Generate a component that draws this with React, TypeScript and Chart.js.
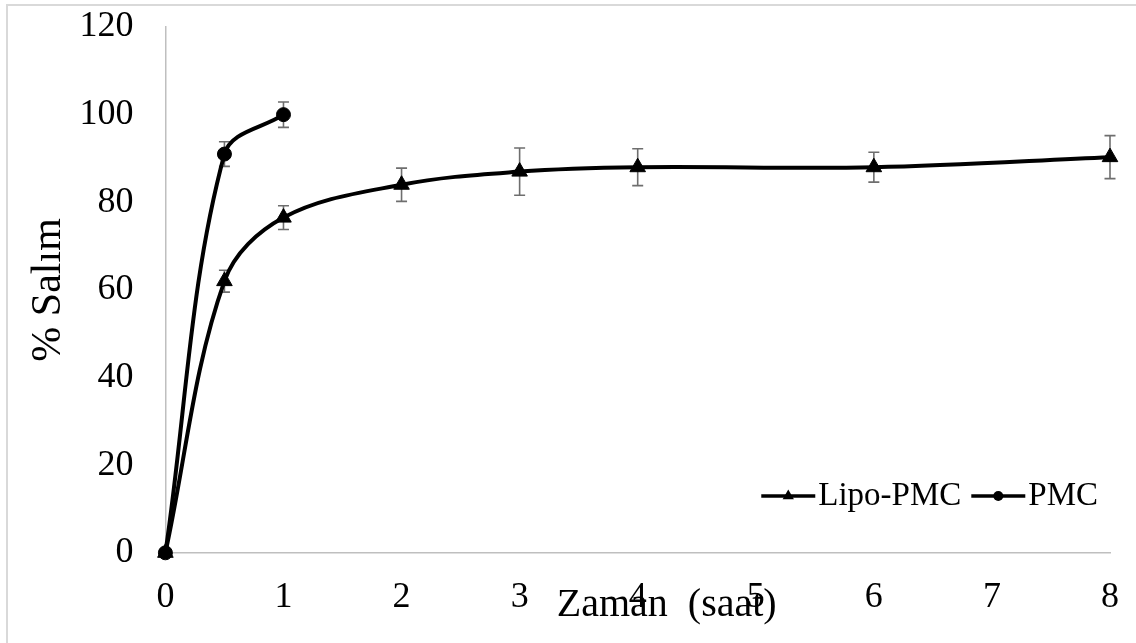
import React, { useEffect, useRef } from "react";
import { Chart, registerables } from "chart.js";

Chart.register(...registerables);

// ---- data ----
const timeLipo = [0, 0.5, 1, 2, 3, 4, 6, 8];
const lipoValues = [0, 62, 76.5, 84, 87, 88, 88, 90.3];
const lipoErrors = [0, 2.5, 2.7, 3.8, 5.4, 4.2, 3.4, 4.9];
const timePMC = [0, 0.5, 1];
const pmcValues = [0, 91, 100];
const pmcErrors = [0, 2.8, 2.9];
const seriesNames = ["Lipo-PMC", "PMC"];
const xTitle = "Zaman  (saat)";
const yTitle = "% Salım";
const xRange = [0, 8, 1];
const yRange = [0, 120, 20];

const SERIF = "'Liberation Serif', 'Times New Roman', serif";

const errorBarPlugin = {
  id: "errorBars",
  beforeDatasetsDraw(chart: any) {
    const { ctx } = chart;
    const xs = chart.scales.x;
    const ys = chart.scales.y;
    ctx.save();
    ctx.strokeStyle = "#6e6e6e";
    ctx.lineWidth = 1.6;
    chart.data.datasets.forEach((ds: any) => {
      (ds.data as any[]).forEach((p: any, i: number) => {
        const e = ds.errors[i];
        if (!e) return;
        const x = xs.getPixelForValue(p.x);
        const yt = ys.getPixelForValue(p.y + e);
        const yb = ys.getPixelForValue(p.y - e);
        const cap = 5.5;
        ctx.beginPath();
        ctx.moveTo(x, yt);
        ctx.lineTo(x, yb);
        ctx.moveTo(x - cap, yt);
        ctx.lineTo(x + cap, yt);
        ctx.moveTo(x - cap, yb);
        ctx.lineTo(x + cap, yb);
        ctx.stroke();
      });
    });
    ctx.restore();
  },
};

const titleLegendPlugin = {
  id: "titleLegend",
  afterDraw(chart: any) {
    const { ctx, chartArea } = chart;
    ctx.save();
    // x axis title
    ctx.fillStyle = "#000";
    ctx.font = `40px ${SERIF}`;
    ctx.textAlign = "center";
    ctx.textBaseline = "middle";
    ctx.fillText(xTitle, (chartArea.left + chartArea.right) / 2 + 29, 605);

    // legend (bottom right, inside plot area)
    ctx.font = `33px ${SERIF}`;
    const symLen = 54;
    const gap = 3;
    const itemGap = 10;
    const ds = chart.data.datasets;
    const widths = ds.map((d: any) => ctx.measureText(d.label).width);
    let total = 0;
    widths.forEach((w: number, i: number) => {
      total += symLen + gap + w + (i < widths.length - 1 ? itemGap : 0);
    });
    let x = 1098 - total;
    const y = 496;
    ds.forEach((d: any, i: number) => {
      ctx.strokeStyle = "#000";
      ctx.lineWidth = 3.5;
      ctx.beginPath();
      ctx.moveTo(x, y);
      ctx.lineTo(x + symLen, y);
      ctx.stroke();
      const cx = x + symLen / 2;
      ctx.fillStyle = "#000";
      ctx.beginPath();
      if (d.pointStyle === "triangle") {
        const r = 6.5;
        ctx.moveTo(cx, y - r);
        ctx.lineTo(cx + r * 0.866, y + r / 2);
        ctx.lineTo(cx - r * 0.866, y + r / 2);
        ctx.closePath();
      } else {
        ctx.arc(cx, y, 5, 0, Math.PI * 2);
      }
      ctx.fill();
      ctx.textAlign = "left";
      ctx.textBaseline = "middle";
      ctx.fillText(d.label, x + symLen + gap, y);
      x += symLen + gap + widths[i] + itemGap;
    });
    ctx.restore();
  },
};

export default function App() {
  const ref = useRef<HTMLCanvasElement | null>(null);

  useEffect(() => {
    document.body.style.margin = "0";
    document.body.style.overflow = "hidden";
    const canvas = ref.current;
    if (!canvas) return;
    const chart = new Chart(canvas, {
      type: "scatter",
      data: {
        datasets: [
          {
            label: seriesNames[0],
            data: timeLipo.map((t, i) => ({ x: t, y: lipoValues[i] })),
            errors: lipoErrors,
            showLine: true,
            borderColor: "#000",
            borderWidth: 4,
            backgroundColor: "#000",
            pointStyle: "triangle",
            pointRadius: 9,
            pointBorderWidth: 1,
            pointBackgroundColor: "#000",
            pointBorderColor: "#000",
            tension: 0.35,
            clip: false,
          } as any,
          {
            label: seriesNames[1],
            data: timePMC.map((t, i) => ({ x: t, y: pmcValues[i] })),
            errors: pmcErrors,
            showLine: true,
            borderColor: "#000",
            borderWidth: 4,
            backgroundColor: "#000",
            pointStyle: "circle",
            pointRadius: 7,
            pointBorderWidth: 1,
            pointBackgroundColor: "#000",
            pointBorderColor: "#000",
            tension: 0.35,
            clip: false,
          } as any,
        ],
      },
      options: {
        responsive: false,
        animation: false,
        devicePixelRatio: 1,
        layout: { padding: { left: 0, top: 27, right: 26, bottom: 21 } },
        plugins: {
          legend: { display: false },
          tooltip: { enabled: false },
        },
        scales: {
          x: {
            type: "linear",
            min: xRange[0],
            max: xRange[1],
            grid: { display: false, drawTicks: true, tickLength: 20 },
            border: { display: true, color: "#bfbfbf", width: 1.5 },
            ticks: {
              stepSize: xRange[2],
              padding: 3,
              maxRotation: 0,
              color: "#000",
              font: { family: SERIF, size: 36 },
            },
          },
          y: {
            type: "linear",
            min: yRange[0],
            max: yRange[1],
            grid: { display: false, drawTicks: true, tickLength: 29 },
            border: { display: true, color: "#bfbfbf", width: 1.5 },
            ticks: {
              stepSize: yRange[2],
              padding: 3,
              color: "#000",
              font: { family: SERIF, size: 36 },
            },
            title: {
              display: true,
              text: yTitle,
              color: "#000",
              font: { family: SERIF, size: 42 },
              padding: { top: 24, bottom: 2 },
            },
          },
        },
      } as any,
      plugins: [errorBarPlugin, titleLegendPlugin],
    });
    return () => chart.destroy();
  }, []);

  return (
    <div style={{ position: "fixed", inset: 0, overflow: "hidden", background: "#fff" }}>
      <div
        style={{
          position: "absolute",
          left: 6,
          top: 4,
          width: 1200,
          height: 700,
          border: "2px solid #d9d9d9",
        }}
      />
      <canvas
        ref={ref}
        width={1136}
        height={643}
        style={{ position: "absolute", left: 0, top: 0, width: 1136, height: 643 }}
      />
    </div>
  );
}
